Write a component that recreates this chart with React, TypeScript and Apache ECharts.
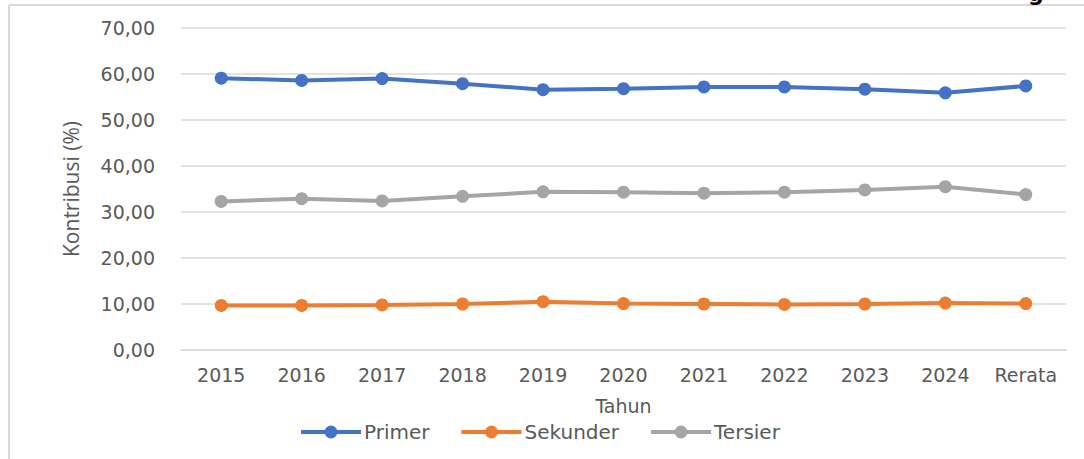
import React, { useEffect, useRef } from "react";
import * as echarts from "echarts";

const categories = ["2015", "2016", "2017", "2018", "2019", "2020", "2021", "2022", "2023", "2024", "Rerata"];
const primer = [59.1, 58.6, 59.0, 57.9, 56.6, 56.8, 57.2, 57.2, 56.7, 55.9, 57.4];
const sekunder = [9.7, 9.7, 9.8, 10.0, 10.5, 10.1, 10.0, 9.9, 10.0, 10.2, 10.1];
const tersier = [32.3, 32.9, 32.4, 33.4, 34.4, 34.3, 34.1, 34.3, 34.8, 35.5, 33.8];
const seriesNames = ["Primer", "Sekunder", "Tersier"];
const seriesColors = ["#4472C4", "#ED7D31", "#A5A5A5"];

const labelFont = "'DejaVu Sans', sans-serif";

export default function App() {
  const ref = useRef<HTMLDivElement>(null);
  useEffect(() => {
    if (!ref.current) return;
    const chart = echarts.init(ref.current, undefined, { renderer: "svg" });
    const data = [primer, sekunder, tersier];
    chart.setOption({
      animation: false,
      backgroundColor: "#ffffff",
      textStyle: { fontFamily: labelFont },
      grid: { left: 181, right: 18, top: 28, bottom: 109, containLabel: false },
      legend: {
        data: seriesNames,
        left: 299,
        top: 422,
        padding: 0,
        itemWidth: 60,
        itemHeight: 16,
        itemGap: 30,
        lineStyle: { width: 4 },
        textStyle: { color: "#595959", fontSize: 20, fontFamily: labelFont, padding: [0, 0, 0, -2] },
      },
      xAxis: {
        type: "category",
        data: categories,
        boundaryGap: true,
        name: "Tahun",
        nameLocation: "middle",
        nameGap: 46,
        nameTextStyle: { color: "#595959", fontSize: 19, fontFamily: labelFont },
        axisLine: { show: true, lineStyle: { color: "#D9D9D9", width: 1.5 } },
        axisTick: { show: false },
        axisLabel: { color: "#595959", fontSize: 19, fontFamily: labelFont, margin: 15, interval: 0 },
      },
      yAxis: {
        type: "value",
        min: 0,
        max: 70,
        interval: 10,
        name: "Kontribusi (%)",
        nameLocation: "middle",
        nameGap: 100,
        nameTextStyle: { color: "#595959", fontSize: 21, fontFamily: "'Open Sans', sans-serif" },
        axisLine: { show: false },
        axisTick: { show: false },
        splitLine: { lineStyle: { color: "#D9D9D9", width: 1.5 } },
        axisLabel: {
          color: "#595959",
          fontSize: 19,
          fontFamily: labelFont,
          margin: 26,
          formatter: (v: number) => v.toFixed(2).replace(".", ","),
        },
      },
      series: seriesNames.map((name, i) => ({
        name,
        type: "line",
        data: data[i],
        symbol: "circle",
        symbolSize: 13,
        color: seriesColors[i],
        itemStyle: { color: seriesColors[i] },
        lineStyle: { color: seriesColors[i], width: 4 },
      })),
      graphic: [
        {
          type: "line",
          shape: { x1: 9, y1: 5, x2: 1084, y2: 5 },
          style: { stroke: "#D9D9D9", lineWidth: 2 },
          silent: true,
        },
        {
          type: "line",
          shape: { x1: 9, y1: 5, x2: 9, y2: 459 },
          style: { stroke: "#D9D9D9", lineWidth: 2 },
          silent: true,
        },
        {
          type: "text",
          x: 1028,
          y: -18,
          style: {
            text: "g",
            fill: "#000000",
            fontSize: 22,
            fontWeight: "bold",
            fontFamily: labelFont,
          },
          silent: true,
        },
      ],
    });
    return () => chart.dispose();
  }, []);
  return (
    <div
      ref={ref}
      style={{ position: "fixed", left: 0, top: 0, width: 1084, height: 459, background: "#fff" }}
    />
  );
}
